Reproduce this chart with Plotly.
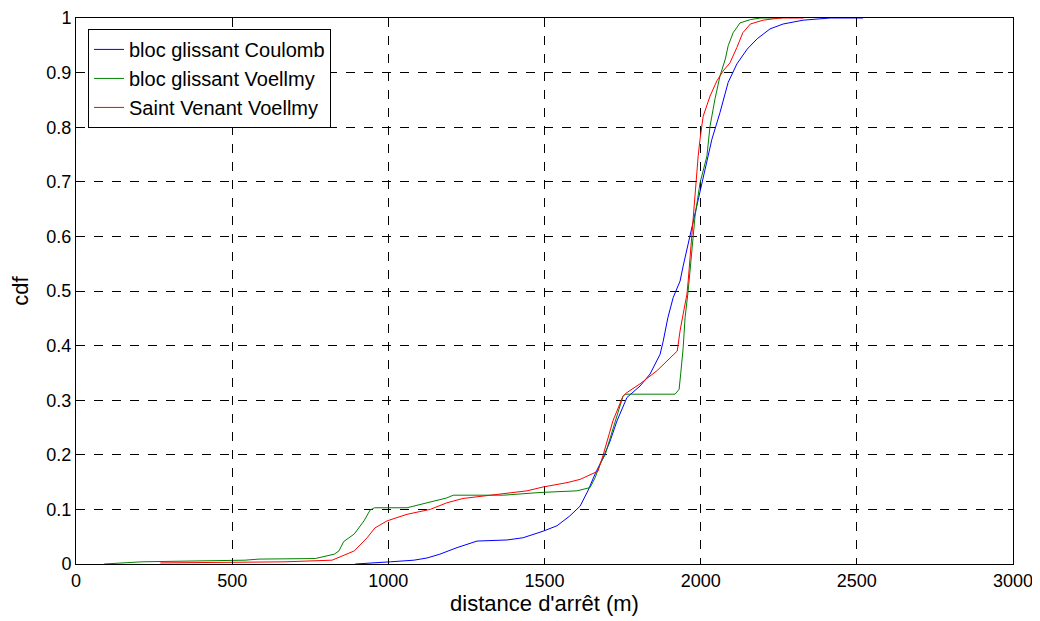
import plotly.graph_objects as go

# cdf of stopping distance
coulomb_x = [894, 974, 1006, 1082, 1124, 1165, 1220, 1284, 1380, 1431, 1495, 1540, 1581, 1614,
             1639, 1662, 1688, 1710, 1732, 1764, 1806, 1838, 1870, 1880, 1895, 1912, 1934,
             1944, 1966, 1992, 2014, 2036, 2062, 2088, 2116, 2149, 2181, 2222, 2264, 2328,
             2415, 2520]
coulomb_y = [0.0, 0.002, 0.004, 0.007, 0.011, 0.018, 0.030, 0.042, 0.044, 0.048, 0.060, 0.070,
             0.088, 0.106, 0.134, 0.165, 0.195, 0.225, 0.262, 0.305, 0.326, 0.348, 0.384, 0.408,
             0.451, 0.488, 0.518, 0.546, 0.601, 0.662, 0.723, 0.778, 0.827, 0.882, 0.916, 0.943,
             0.962, 0.980, 0.989, 0.996, 1.0, 1.0]

bloc_voellmy_x = [90, 211, 541, 586, 766, 827, 842, 857, 891, 922, 942, 956, 1060, 1111, 1187,
                  1208, 1368, 1486, 1604, 1646, 1662, 1678, 1694, 1751, 1758, 1918, 1931, 1936,
                  1940, 1944, 1950, 1956, 1960, 1982, 1998, 2020, 2030, 2046, 2062, 2079, 2088,
                  2104, 2126, 2159, 2190, 2260]
bloc_voellmy_y = [0.0, 0.004, 0.007, 0.009, 0.010, 0.018, 0.024, 0.041, 0.055, 0.079, 0.099,
                  0.103, 0.103, 0.110, 0.121, 0.126, 0.126, 0.131, 0.134, 0.140, 0.158, 0.183,
                  0.200, 0.307, 0.311, 0.311, 0.320, 0.348, 0.372, 0.396, 0.451, 0.482, 0.500,
                  0.637, 0.698, 0.747, 0.802, 0.852, 0.894, 0.925, 0.949, 0.973, 0.991, 0.997,
                  1.0, 1.0]

saint_venant_x = [270, 669, 820, 845, 891, 932, 957, 996, 1060, 1134, 1187, 1239, 1316, 1368,
                  1444, 1495, 1572, 1614, 1655, 1671, 1688, 1719, 1751, 1764, 1806, 1860, 1925,
                  1934, 1944, 1956, 1960, 1976, 1982, 1992, 1998, 2008, 2030, 2052, 2072, 2094,
                  2116, 2135, 2159, 2200, 2254, 2330]
saint_venant_y = [0.002, 0.004, 0.007, 0.013, 0.024, 0.048, 0.066, 0.079, 0.091, 0.100, 0.112,
                  0.120, 0.125, 0.128, 0.134, 0.141, 0.149, 0.155, 0.165, 0.170, 0.200, 0.262,
                  0.307, 0.314, 0.330, 0.354, 0.390, 0.427, 0.458, 0.494, 0.518, 0.637, 0.687,
                  0.747, 0.778, 0.820, 0.857, 0.885, 0.903, 0.918, 0.946, 0.973, 0.989, 0.996,
                  1.0, 1.0]

x_ticks = [0, 500, 1000, 1500, 2000, 2500, 3000]
y_ticks = [0, 0.1, 0.2, 0.3, 0.4, 0.5, 0.6, 0.7, 0.8, 0.9, 1]
y_labels = ["0", "0.1", "0.2", "0.3", "0.4", "0.5", "0.6", "0.7", "0.8", "0.9", "1"]

series = [
    ("bloc glissant Coulomb", coulomb_x, coulomb_y, "#0000ff"),
    ("bloc glissant Voellmy", bloc_voellmy_x, bloc_voellmy_y, "#008000"),
    ("Saint Venant Voellmy", saint_venant_x, saint_venant_y, "#ff0000"),
]

fig = go.Figure()
for name, xs, ys, color in series:
    fig.add_trace(go.Scatter(x=xs, y=ys, mode="lines", name=name, legendgroup=name,
                             line=dict(color=color, width=1)))

axis_style = dict(
    showline=True, linecolor="black", linewidth=1, mirror="ticks",
    ticks="inside", ticklen=5, tickcolor="black",
    showgrid=True, gridcolor="black", gridwidth=1, griddash="dash",
    zeroline=False, tickfont=dict(size=18, color="black"),
    automargin=False, ticklabeloverflow="allow",
)

# the page body adds an 8px offset, so the figure is a bit smaller than the window
fig.update_layout(
    width=1032, height=613,
    margin=dict(l=68, r=27, t=10, b=57),
    paper_bgcolor="white", plot_bgcolor="white",
    font=dict(family="Liberation Sans, Arial, sans-serif", size=18, color="black"),
    xaxis=dict(range=[0, 3000], tickvals=x_ticks,
               title=dict(text="distance d'arrêt (m)", standoff=5), **axis_style),
    yaxis=dict(range=[0, 1], tickvals=y_ticks, ticktext=y_labels,
               title=dict(text="cdf", standoff=16), **axis_style),
    legend=dict(x=0.0128, y=0.98, xanchor="left", yanchor="top",
                bgcolor="white", bordercolor="black", borderwidth=1,
                font=dict(size=20), tracegroupgap=0),
    showlegend=True,
)

fig.write_html("out.html")
